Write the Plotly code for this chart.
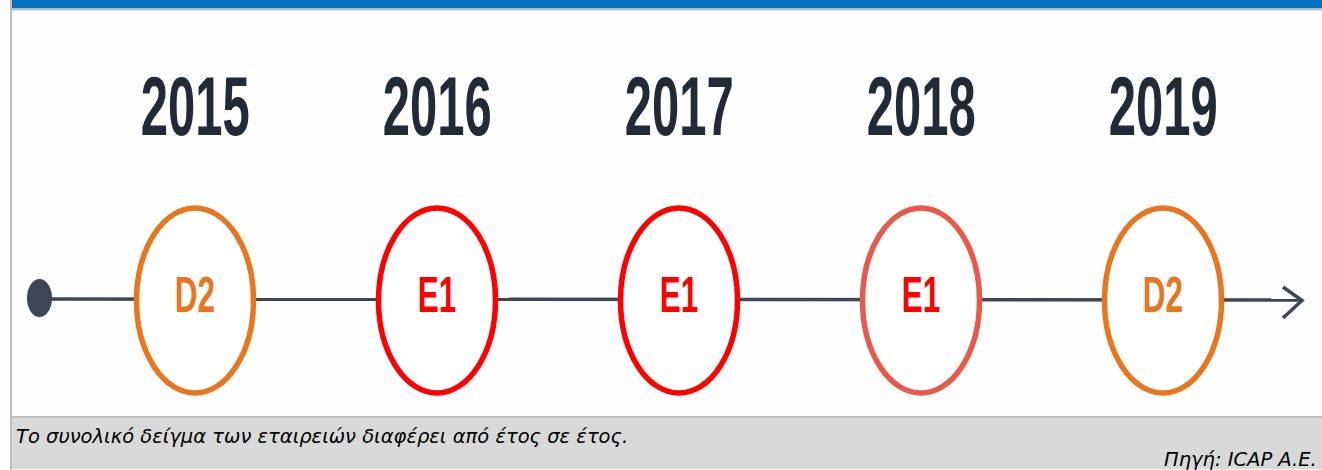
import plotly.graph_objects as go

# ---- data ----
years = [2015, 2016, 2017, 2018, 2019]
ratings = ["D2", "E1", "E1", "E1", "D2"]
ring_colors = ["#E8761F", "#FF0000", "#FF0000", "#E8584B", "#E8761F"]
text_colors = ["#E8761F", "#FF0000", "#FF0000", "#FF0000", "#E8761F"]
footnote = "Το συνολικό δείγμα των εταιρειών διαφέρει από έτος σε έτος."
source = "Πηγή: ICAP A.E."

W, H = 1322, 470
PX_PER_YEAR = 242.0
X0 = 2015 - 195 / PX_PER_YEAR          # left edge of the figure in year units
X1 = X0 + W / PX_PER_YEAR


def px(x):
    """pixel -> x-axis (year) units, for decorations only"""
    return X0 + x / PX_PER_YEAR


LINE = "#3B4754"
Y_LINE = 300
half_w = 58.5 / PX_PER_YEAR
ell_top, ell_bot = 208, 393
BOLD_FONT = "Liberation Sans, Arial, Roboto, sans-serif"

shapes = []
# page frame
frame = dict(xref="paper", yref="y", line=dict(width=0), layer="below")
shapes.append(dict(type="rect", x0=12 / W, x1=1, y0=0, y1=8.5, fillcolor="#0070C0", **frame))
shapes.append(dict(type="rect", x0=12 / W, x1=1, y0=8.5, y1=10.5, fillcolor="#BFBFBF", **frame))
shapes.append(dict(type="rect", x0=12 / W, x1=1, y0=416, y1=418, fillcolor="#BFBFBF", **frame))
shapes.append(dict(type="rect", x0=12 / W, x1=1, y0=418, y1=469, fillcolor="#D9D9D9", **frame))
shapes.append(dict(type="rect", x0=10 / W, x1=12 / W, y0=0, y1=470, fillcolor="#BFBFBF", **frame))

# timeline
shapes.append(dict(type="line", xref="x", yref="y", x0=px(40), x1=px(1301), y0=Y_LINE - 1, y1=Y_LINE,
                   line=dict(color=LINE, width=3.5), layer="below"))
shapes.append(dict(type="circle", xref="x", yref="y", x0=px(27), x1=px(52), y0=279, y1=317,
                   fillcolor=LINE, line=dict(width=0), layer="below"))
shapes.append(dict(type="path", xref="x", yref="y",
                   path=f"M {px(1283)},{287} L {px(1302)},{300.5} L {px(1283)},{318}",
                   line=dict(color=LINE, width=3.5), layer="below"))

# rating rings
for yr, c in zip(years, ring_colors):
    shapes.append(dict(type="circle", xref="x", yref="y",
                       x0=yr - half_w, x1=yr + half_w, y0=ell_top, y1=ell_bot,
                       fillcolor="white", line=dict(color=c, width=5.5), layer="below"))

fig = go.Figure()
fig.add_trace(go.Scatter(
    x=years, y=[Y_LINE] * len(years), mode="text", text=ratings,
    textposition="middle center",
    textfont=dict(family=BOLD_FONT, size=50, color=text_colors, weight="bold"),
    hoverinfo="skip", showlegend=False,
))

annotations = []
for yr in years:
    annotations.append(dict(x=yr, y=106, xref="x", yref="y", text=str(yr), showarrow=False,
                            xanchor="center", yanchor="middle",
                            font=dict(family=BOLD_FONT, size=83, color="#222A35", weight="bold")))
annotations.append(dict(x=14 / W, y=436, xref="paper", yref="y", text=f"<i>{footnote}</i>",
                        showarrow=False, xanchor="left", yanchor="middle",
                        font=dict(family="DejaVu Sans", size=19.5, color="#000000")))
annotations.append(dict(x=1162 / W, y=459, xref="paper", yref="y", text=f"<i>{source}</i>",
                        showarrow=False, xanchor="left", yanchor="middle",
                        font=dict(family="DejaVu Sans", size=19.5, color="#000000")))

fig.update_layout(
    width=W, height=H,
    margin=dict(l=0, r=0, t=0, b=0),
    paper_bgcolor="#FEFEFE", plot_bgcolor="rgba(0,0,0,0)",
    xaxis=dict(range=[X0, X1], visible=False, fixedrange=True),
    yaxis=dict(range=[H, 0], visible=False, fixedrange=True),
    shapes=shapes, annotations=annotations,
)

# remove browser body margin and give the bold labels a condensed look (text stays text)
post = """
document.body.style.margin = '0';
var gd = document.getElementById('{plot_id}');
function squeeze(el, k) {
  var b = el.getBBox();
  var cx = b.x + b.width / 2;
  var t = el.getAttribute('transform') || '';
  el.setAttribute('transform', t + ' translate(' + cx + ',0) scale(' + k + ',1) translate(' + (-cx) + ',0)');
}
gd.querySelectorAll('.textpoint text').forEach(function(el){ squeeze(el, 0.63); });
gd.querySelectorAll('.annotation-text').forEach(function(el){
  if (/^\\d{4}$/.test(el.textContent)) squeeze(el, 0.59);
});
"""

fig.write_html("out.html", post_script=post, config={"displayModeBar": False})
